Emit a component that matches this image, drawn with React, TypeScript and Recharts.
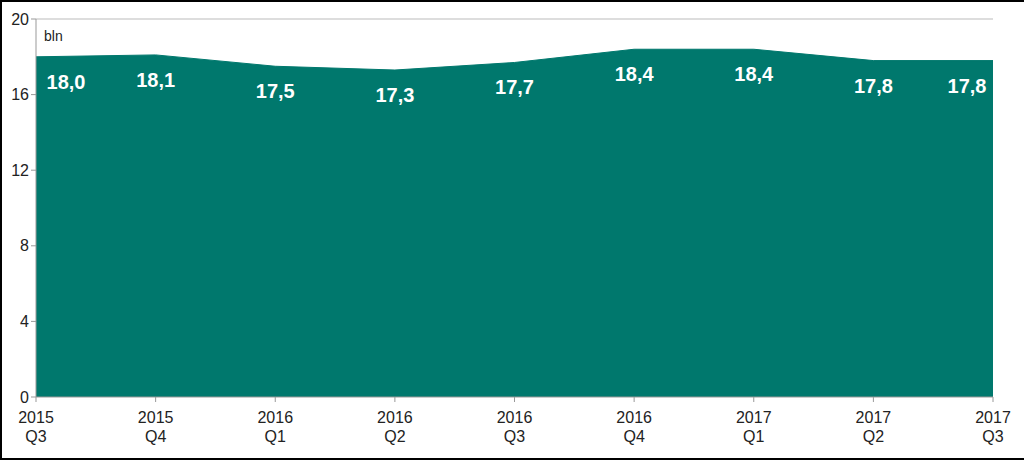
import React from "react";
import { AreaChart, Area, XAxis, YAxis, ReferenceLine, LabelList } from "recharts";

const years = ["2015", "2015", "2016", "2016", "2016", "2016", "2017", "2017", "2017"];
const quarters = ["Q3", "Q4", "Q1", "Q2", "Q3", "Q4", "Q1", "Q2", "Q3"];
const values = [18.0, 18.1, 17.5, 17.3, 17.7, 18.4, 18.4, 17.8, 17.8];
const yTicks = [0, 4, 8, 12, 16, 20];

const data = values.map((v, i) => ({ name: `${years[i]} ${quarters[i]}`, idx: i, value: v }));

const FONT = "'Liberation Sans', Arial, sans-serif";

const XTick = (props: any) => {
  const { x, y, payload } = props;
  const i = payload.index ?? data.findIndex((d) => d.name === payload.value);
  return (
    <g>
      <text x={x} y={y + 19} textAnchor="middle" fontFamily={FONT} fontSize={16} fill="#222">
        {years[i]}
      </text>
      <text x={x} y={y + 38} textAnchor="middle" fontFamily={FONT} fontSize={16} fill="#222">
        {quarters[i]}
      </text>
    </g>
  );
};

const ValueLabel = (props: any) => {
  const { x, y, value, index } = props;
  let dx = 0;
  if (index === 0) dx = 30;
  if (index === values.length - 1) dx = -26;
  return (
    <text
      x={x + dx}
      y={y + 32}
      textAnchor="middle"
      fontFamily={FONT}
      fontWeight="bold"
      fontSize={20}
      fill="#ffffff"
    >
      {Number(value).toFixed(1).replace(".", ",")}
    </text>
  );
};

export default function App() {
  return (
    <div
      style={{
        position: "absolute",
        left: 0,
        top: 0,
        width: 1024,
        height: 462,
        background: "#fff",
        overflow: "hidden",
      }}
    >
      <svg
        width={1024}
        height={462}
        style={{ position: "absolute", left: 0, top: 0 }}
      >
        <line x1={1} y1={0} x2={1} y2={460} stroke="#000" strokeWidth={2} />
        <line x1={0} y1={1} x2={1024} y2={1} stroke="#000" strokeWidth={2} />
        <line x1={0} y1={459} x2={1024} y2={459} stroke="#000" strokeWidth={2} />
      </svg>
      <div style={{ position: "absolute", left: 0, top: 0 }}>
        <AreaChart
          width={1024}
          height={462}
          data={data}
          margin={{ top: 19, right: 31, bottom: 25, left: 6 }}
        >
          <XAxis
            dataKey="name"
            interval={0}
            tick={<XTick />}
            axisLine={{ stroke: "#999" }}
            tickLine={{ stroke: "#999" }}
            tickSize={5}
            height={40}
          />
          <YAxis
            domain={[0, 20]}
            ticks={yTicks}
            width={30}
            axisLine={{ stroke: "#999" }}
            tickLine={{ stroke: "#999" }}
            tickSize={5}
            tickMargin={2}
            tick={{ fontFamily: FONT, fontSize: 16, fill: "#222" }}
          />
          <YAxis
            yAxisId="r"
            orientation="right"
            domain={[0, 20]}
            width={0}
            tick={false}
            tickLine={false}
            axisLine={{ stroke: "#bbb" }}
          />
          <ReferenceLine y={20} stroke="#bbb" ifOverflow="visible" />
          <Area
            type="linear"
            dataKey="value"
            stroke="#00786D"
            strokeWidth={1}
            fill="#00786D"
            fillOpacity={1}
            isAnimationActive={false}
            dot={false}
            activeDot={false}
          >
            <LabelList dataKey="value" content={<ValueLabel />} />
          </Area>
          <text x={44} y={41} fontFamily={FONT} fontSize={14} fill="#222">
            bln
          </text>
        </AreaChart>
      </div>
    </div>
  );
}
